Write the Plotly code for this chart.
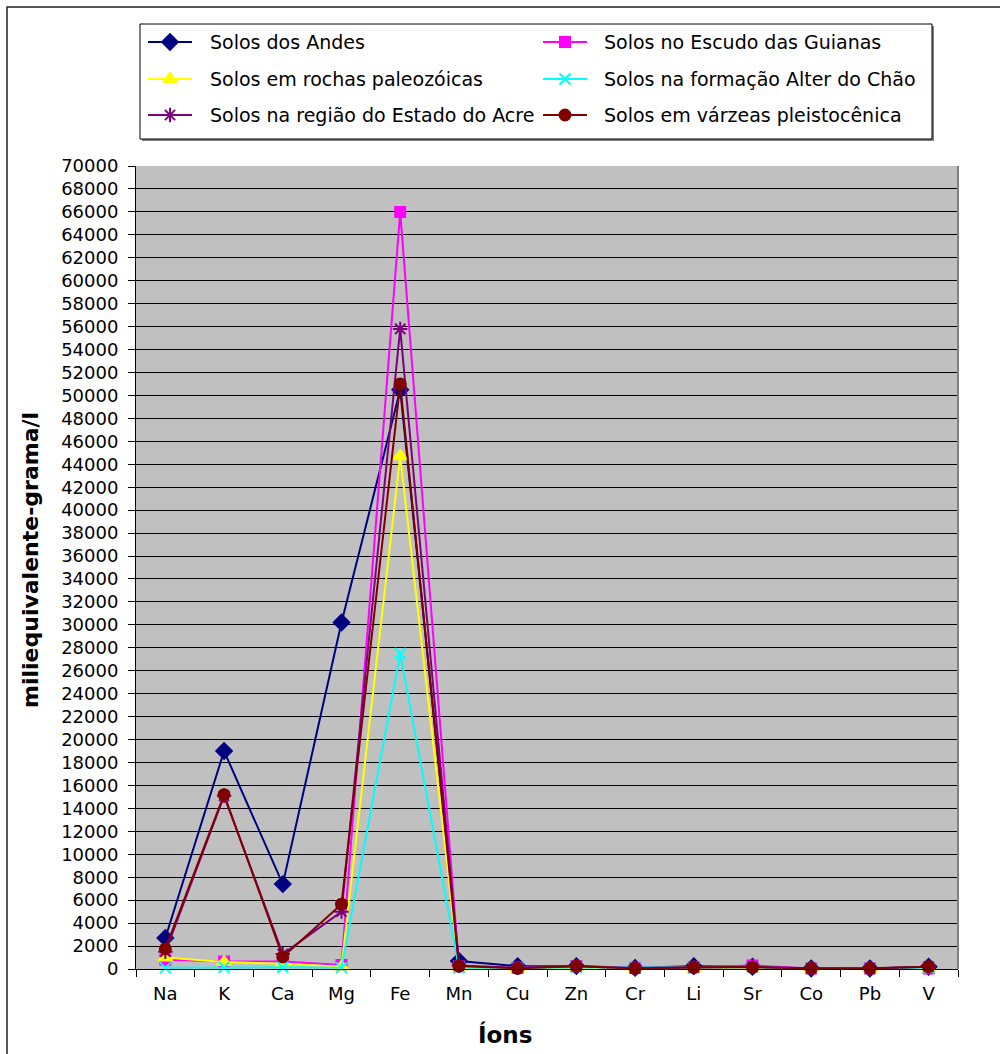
import plotly.graph_objects as go

ions = ["Na", "K", "Ca", "Mg", "Fe", "Mn", "Cu", "Zn", "Cr", "Li", "Sr", "Co", "Pb", "V"]

andes = [2700, 19000, 7400, 30200, 50500, 700, 250, 250, 100, 250, 200, 50, 50, 200]
guianas = [800, 650, 650, 350, 66000, 250, 100, 250, 100, 150, 300, 50, 50, 50]
paleozoicas = [1000, 600, 450, 200, 44700, 100, 50, 100, 30, 50, 100, 30, 30, 50]
alter_chao = [100, 150, 150, 100, 27500, 100, 100, 150, 100, 100, 150, 50, 50, 100]
acre = [1500, 15100, 1300, 5000, 55800, 300, 100, 250, 50, 150, 200, 50, 50, 200]
varzeas = [1750, 15200, 1050, 5650, 51000, 250, 60, 250, 60, 150, 150, 60, 60, 200]

series_names = [
    "Solos dos Andes",
    "Solos no Escudo das Guianas",
    "Solos em rochas paleozóicas",
    "Solos na formação Alter do Chão",
    "Solos na região do Estado do Acre",
    "Solos em várzeas pleistocênica",
]
series_values = [andes, guianas, paleozoicas, alter_chao, acre, varzeas]
colors = ["#000080", "#FF00FF", "#FFFF00", "#00FFFF", "#800080", "#800000"]
symbols = ["diamond", "square", "triangle-up", "x-thin-open", "asterisk-open", "circle"]
sizes = [12, 10, 12, 11, 12, 11]

W, H = 1000, 1054
L, R, T, B = 136, 958, 166, 969
FONT = "DejaVu Sans, Liberation Sans, Arial, sans-serif"

fig = go.Figure()
for name, vals, color, sym, size in zip(series_names, series_values, colors, symbols, sizes):
    fig.add_trace(go.Scatter(
        x=ions, y=vals, name=name, mode="lines+markers",
        line=dict(color=color, width=2),
        marker=dict(symbol=sym, size=size, color=color,
                    line=dict(color=color, width=2)),
        cliponaxis=False, showlegend=False,
        xaxis="x", yaxis="y",
    ))

# Manual legend drawn on a full-figure pixel overlay (x2/y2)
leg_rows = [42, 79, 115]
leg_cols = [(148, 192, 208), (543, 587, 602)]
annotations = []
for i, (name, color, sym, size) in enumerate(zip(series_names, colors, symbols, sizes)):
    r, c = divmod(i, 2)
    x0, x1, xt = leg_cols[c]
    yy = leg_rows[r]
    fig.add_trace(go.Scatter(
        x=[x0, x1], y=[yy, yy], mode="lines",
        line=dict(color=color, width=2), showlegend=False,
        xaxis="x2", yaxis="y2", hoverinfo="skip",
    ))
    fig.add_trace(go.Scatter(
        x=[(x0 + x1) / 2], y=[yy], mode="markers",
        marker=dict(symbol=sym, size=size, color=color, line=dict(color=color, width=2)),
        showlegend=False, xaxis="x2", yaxis="y2", hoverinfo="skip",
    ))
    annotations.append(dict(
        x=xt, y=yy, xref="x2", yref="y2", text=name, showarrow=False,
        xanchor="left", yanchor="middle", font=dict(family=FONT, size=19, color="black"),
    ))

annotations.append(dict(
    x=30, y=560, xref="x2", yref="y2", text="<b>miliequivalente-grama/l</b>",
    textangle=-90, showarrow=False, xanchor="center", yanchor="middle",
    font=dict(family=FONT, size=22, color="black"),
))
annotations.append(dict(
    x=505, y=1034, xref="x2", yref="y2", text="<b>Íons</b>",
    showarrow=False, xanchor="center", yanchor="middle",
    font=dict(family=FONT, size=23, color="black"),
))

shapes = [
    # plot area background
    dict(type="rect", xref="paper", yref="paper",
         x0=L / W, x1=R / W, y0=(H - B) / H, y1=(H - T) / H,
         fillcolor="#C0C0C0", line=dict(width=0), layer="below"),
    # right edge of plot area
    dict(type="line", xref="x2", yref="y2", x0=R, x1=R, y0=T, y1=B,
         line=dict(color="#808080", width=2)),
    # outer chart border
    dict(type="rect", xref="x2", yref="y2", x0=7, x1=1010, y0=7, y1=1070,
         line=dict(color="#222222", width=1.5), fillcolor="rgba(0,0,0,0)"),
    # legend shadow + box
    dict(type="rect", xref="x2", yref="y2", x0=142, x1=934, y0=26, y1=141,
         line=dict(width=0), fillcolor="#808080", layer="below"),
    dict(type="rect", xref="x2", yref="y2", x0=140, x1=932, y0=24, y1=139,
         line=dict(color="black", width=1), fillcolor="white", layer="below"),
]

fig.update_layout(
    template="none",
    width=W, height=H,
    margin=dict(l=0, r=0, t=0, b=0, pad=0, autoexpand=False),
    paper_bgcolor="white",
    plot_bgcolor="rgba(0,0,0,0)",
    font=dict(family=FONT, size=18, color="black"),
    showlegend=False,
    xaxis=dict(
        domain=[L / W, R / W], anchor="y",
        type="category", range=[-0.5, 13.5], automargin=False,
        showgrid=False, showline=True, linecolor="black", linewidth=1,
        ticks="outside", tickson="boundaries", ticklen=7, tickcolor="black", tickwidth=1,
        ticklabelstandoff=8, tickfont=dict(size=18),
        zeroline=False, fixedrange=True,
    ),
    yaxis=dict(
        domain=[(H - B) / H, (H - T) / H], anchor="x",
        range=[0, 70000], dtick=2000, tick0=0, automargin=False,
        showgrid=True, gridcolor="black", gridwidth=1,
        showline=True, linecolor="black", linewidth=1,
        ticks="outside", ticklen=7, tickcolor="black", tickwidth=1,
        ticklabelstandoff=6, tickformat="d", tickfont=dict(size=18),
        zeroline=False, fixedrange=True,
    ),
    xaxis2=dict(domain=[0, 1], anchor="y2", range=[0, W], visible=False, fixedrange=True),
    yaxis2=dict(domain=[0, 1], anchor="x2", range=[H, 0], visible=False, fixedrange=True),
    shapes=shapes,
    annotations=annotations,
)

fig.write_html("out.html", config={"displayModeBar": False},
               post_script="document.body.style.margin='0';")
